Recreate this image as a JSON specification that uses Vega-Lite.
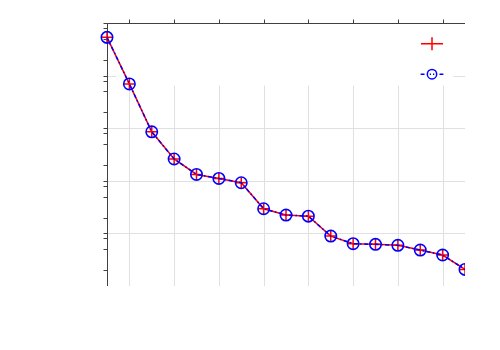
{
  "$schema": "https://vega.github.io/schema/vega-lite/v6.json",
  "width": 358,
  "height": 263,
  "autosize": {"type": "none"},
  "padding": {"left": 107, "top": 23, "right": 0, "bottom": 0},
  "background": "white",
  "config": {"view": {"stroke": null}},
  "datasets": {
    "pts": [
      {"x": 1, "y": 53.3},
      {"x": 2, "y": 6.95},
      {"x": 3, "y": 0.853},
      {"x": 4, "y": 0.26},
      {"x": 5, "y": 0.132},
      {"x": 6, "y": 0.111},
      {"x": 7, "y": 0.0918},
      {"x": 8, "y": 0.0294},
      {"x": 9, "y": 0.0223},
      {"x": 10, "y": 0.0213},
      {"x": 11, "y": 0.00889},
      {"x": 12, "y": 0.00638},
      {"x": 13, "y": 0.00619},
      {"x": 14, "y": 0.00593},
      {"x": 15, "y": 0.00482},
      {"x": 16, "y": 0.00388},
      {"x": 17, "y": 0.00207}
    ],
    "box": [{"x0": 1.42, "x1": 16.49, "y0": 6.45, "y1": 100}],
    "series": [{"series": "A"}, {"series": "B"}]
  },
  "resolve": {"axis": {"x": "independent", "y": "independent"}},
  "layer": [
    {
      "data": {"name": "box"},
      "mark": {"type": "rect", "fill": "white"},
      "encoding": {
        "x": {"field": "x0", "type": "quantitative",
          "scale": {"type": "linear", "domain": [1, 17], "nice": false, "zero": false},
          "axis": {"orient": "bottom", "values": [2, 4, 6, 8, 10, 12, 14, 16], "labels": false, "title": null,
            "grid": true, "gridColor": "#e0e0e0", "gridWidth": 1, "tickSize": 4, "tickColor": "#404040",
            "domainColor": "#404040", "domainWidth": 1, "zindex": 0,
            "encode": {"ticks": {"update": {"y2": {"value": -4}}}}}},
        "x2": {"field": "x1"},
        "y": {"field": "y0", "type": "quantitative",
          "scale": {"type": "log", "domain": [0.001, 100], "nice": false},
          "axis": {"orient": "left",
            "values": [0.001, 0.002, 0.005, 0.008, 0.01, 0.02, 0.05, 0.08, 0.1, 0.2, 0.5, 0.8, 1, 2, 5, 8, 10, 20, 50, 80, 100],
            "labels": false, "title": null, "grid": true, "gridColor": "#e0e0e0", "gridWidth": 1,
            "gridOpacity": {"condition": {"test": "abs(log(datum.value)/LN10 - round(log(datum.value)/LN10)) < 0.001", "value": 1}, "value": 0},
            "tickSize": 4,
            "tickColor": "#404040", "domainColor": "#404040", "domainWidth": 1, "zindex": 0,
            "encode": {"ticks": {"update": {"x2": {"signal": "abs(log(datum.value)/LN10 - round(log(datum.value)/LN10)) < 0.001 ? 4 : 2"}}}}}},
        "y2": {"field": "y1"}
      }
    },
    {
      "data": {"name": "pts"},
      "mark": {"type": "line", "color": "#ff0000", "strokeWidth": 1.5},
      "encoding": {
        "x": {"field": "x", "type": "quantitative",
          "scale": {"type": "linear", "domain": [1, 17], "nice": false, "zero": false},
          "axis": {"orient": "top", "values": [2, 4, 6, 8, 10, 12, 14, 16], "labels": false, "title": null,
            "grid": false, "tickSize": 4, "tickColor": "#404040", "domainColor": "#404040", "domainWidth": 1, "zindex": 1,
            "encode": {"ticks": {"update": {"y2": {"value": 4}}}}}},
        "y": {"field": "y", "type": "quantitative",
          "scale": {"type": "log", "domain": [0.001, 100], "nice": false},
          "axis": {"orient": "right",
            "values": [0.001, 0.002, 0.005, 0.008, 0.01, 0.02, 0.05, 0.08, 0.1, 0.2, 0.5, 0.8, 1, 2, 5, 8, 10, 20, 50, 80, 100],
            "labels": false, "title": null, "grid": false, "tickSize": 4,
            "tickColor": "#404040", "domainColor": "#404040", "domainWidth": 1, "zindex": 1,
            "encode": {"ticks": {"update": {"x2": {"signal": "abs(log(datum.value)/LN10 - round(log(datum.value)/LN10)) < 0.001 ? -4 : -2"}}}}}}
      }
    },
    {
      "data": {"name": "pts"},
      "mark": {"type": "point", "shape": "M-1,0H1M0,-1V1", "size": 115, "filled": false, "stroke": "#ff0000", "strokeWidth": 1.5, "opacity": 1},
      "encoding": {
        "x": {"field": "x", "type": "quantitative", "axis": null},
        "y": {"field": "y", "type": "quantitative", "axis": null}
      }
    },
    {
      "data": {"name": "pts"},
      "mark": {"type": "line", "color": "#0000ff", "strokeWidth": 1.5, "strokeDash": [4, 2.5, 1.5, 2.5]},
      "encoding": {
        "x": {"field": "x", "type": "quantitative", "axis": null},
        "y": {"field": "y", "type": "quantitative", "axis": null}
      }
    },
    {
      "data": {"name": "pts"},
      "mark": {"type": "point", "shape": "circle", "size": 130, "filled": false, "stroke": "#0000ff", "strokeWidth": 1.6, "opacity": 1},
      "encoding": {
        "x": {"field": "x", "type": "quantitative", "axis": null},
        "y": {"field": "y", "type": "quantitative", "axis": null}
      }
    },
    {
      "data": {"name": "series"},
      "transform": [{"filter": "false"}],
      "mark": {"type": "point", "filled": false, "strokeWidth": 1.5, "opacity": 1},
      "encoding": {
        "shape": {"field": "series", "type": "nominal",
          "scale": {"domain": ["A", "B"], "range": [
            "M-1.7,0H1.7M0,-1V1",
            "M-1.75,0H-1.15M-0.35,0H-0.15M0.15,0H0.35M1.15,0H1.75M-0.72,0A0.72,0.72 0 1,1 0.72,0A0.72,0.72 0 1,1 -0.72,0"
          ]},
          "legend": {"orient": "none", "legendX": 317.5, "legendY": 13.2, "title": null, "padding": 0,
            "symbolSize": 169, "rowPadding": 12.5, "labelExpr": "''", "symbolStrokeWidth": 1.5, "labelFontSize": 1}},
        "stroke": {"field": "series", "type": "nominal",
          "scale": {"domain": ["A", "B"], "range": ["#ff0000", "#0000ff"]}}
      }
    }
  ]
}
